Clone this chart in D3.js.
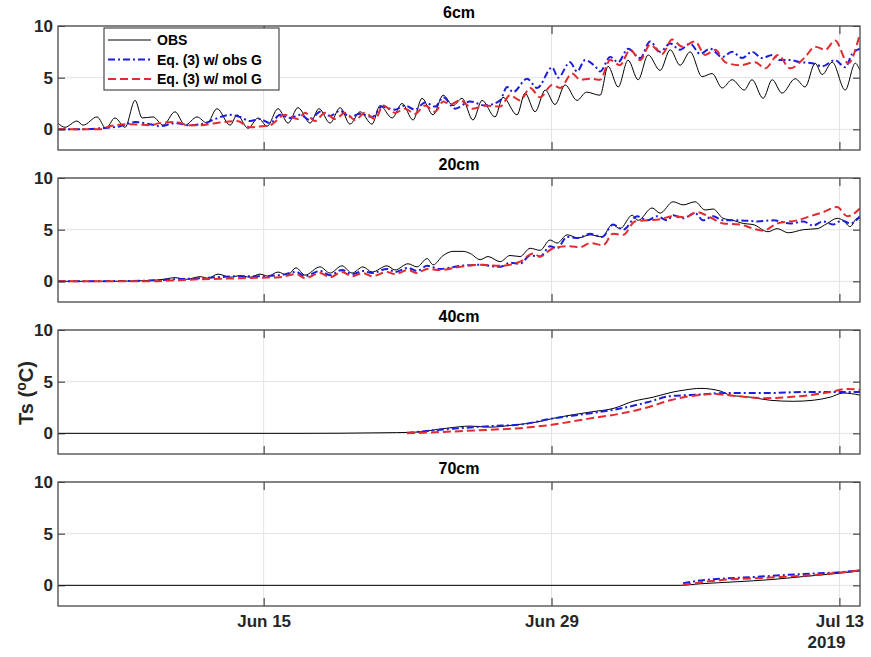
<!DOCTYPE html>
<html><head><meta charset="utf-8">
<script src="https://cdn.jsdelivr.net/npm/d3@7"></script>
<style>
html,body{margin:0;padding:0;background:#fff;}
svg text{font-family:"Liberation Sans",Arial,Helvetica,sans-serif;font-weight:bold;}
</style></head>
<body><svg id="c" width="871" height="657"></svg>
<script>
// ---- data: [days since 2019-06-05 00:00, temperature °C] ----
const panelTitles = ["6cm", "20cm", "40cm", "70cm"];
const seriesNames = ["OBS", "Eq. (3) w/ obs G", "Eq. (3) w/ mol G"];
const yTicks = [0, 5, 10];
const xTickDates = ["2019-06-15", "2019-06-29", "2019-07-13"];
const xTickLabels = ["Jun 15", "Jun 29", "Jul 13"];
const yearLabel = "2019";
const xStart = "2019-06-05", xEnd = "2019-07-14";

const obs6 = [[0,0.6],[0.34,0.2],[0.92,0.8],[1.22,0.4],[1.90,1.2],[2.33,0.1],[2.77,1.1],[3.26,0.2],[3.75,2.8],[4.09,1.1],[4.62,1.2],[5.11,0.4],[5.69,1.7],[6.18,0.4],[6.76,1.2],[7.25,0.6],[7.73,2.0],[8.37,0.4],[8.71,1.4],[9.24,0.1],[9.73,1.1],[10.17,0.3],[10.70,2.0],[11.19,0.6],[11.67,2.1],[12.26,0.6],[12.69,2.0],[13.23,0.6],[13.72,2.1],[14.20,0.5],[14.69,1.7],[15.27,0.5],[15.66,2.3],[16.25,1.1],[16.73,2.5],[17.27,0.9],[17.70,3.0],[18.24,1.4],[18.73,3.3],[19.21,2.3],[19.65,3.0],[20.18,0.9],[20.62,2.8],[21.25,1.2],[21.64,3.1],[22.32,1.4],[22.71,3.5],[23.20,1.7],[23.69,3.8],[24.17,2.4],[24.66,4.3],[25.24,2.8],[25.70,3.6],[26.36,3.3],[26.75,6.1],[27.24,4.1],[27.72,6.7],[28.21,4.8],[28.70,7.2],[29.28,5.7],[29.77,7.7],[30.25,6.2],[30.74,7.5],[31.32,5.1],[31.81,5.4],[32.30,4.0],[32.78,4.8],[33.37,3.8],[33.75,4.8],[34.29,3.0],[34.73,4.8],[35.21,3.5],[35.85,4.9],[36.33,4.1],[36.82,6.4],[37.16,5.3],[37.65,6.5],[38.28,3.8],[38.77,6.4],[39.00,5.7]];
const obsG6 = [[0,0.0],[1.07,0.0],[2.04,0.1],[3.02,0.3],[3.75,0.7],[4.47,0.5],[4.96,0.3],[5.69,0.6],[6.42,0.4],[7.15,0.6],[7.64,1.0],[8.37,1.4],[8.85,1.2],[9.34,0.8],[9.82,1.0],[10.31,0.6],[10.80,1.4],[11.28,1.1],[11.77,1.4],[12.26,0.9],[12.74,1.7],[13.23,1.3],[13.72,1.8],[14.20,1.2],[14.69,1.5],[15.27,1.2],[15.76,2.2],[16.39,1.9],[16.88,2.3],[17.36,1.9],[17.85,2.6],[18.34,2.2],[18.73,3.1],[19.31,2.0],[20.04,2.7],[20.77,2.3],[21.50,2.8],[21.84,4.1],[22.13,3.6],[22.81,4.9],[23.30,4.0],[24.03,6.0],[24.32,5.0],[24.90,6.5],[25.24,5.6],[25.63,6.7],[26.12,6.1],[26.36,5.6],[26.85,7.0],[27.24,6.5],[27.72,7.8],[28.31,6.9],[28.79,8.5],[29.28,7.5],[29.77,8.3],[30.25,7.7],[30.74,8.3],[31.23,7.3],[31.71,7.8],[32.30,7.0],[32.78,7.5],[33.27,6.9],[33.75,7.5],[34.24,6.9],[34.73,7.2],[35.12,6.7],[35.60,6.7],[36.09,6.5],[36.67,6.4],[37.16,6.1],[37.79,6.7],[38.28,6.0],[38.62,7.3],[39.00,7.8]];
const molG6 = [[0,0.0],[2.04,0.0],[2.53,0.3],[3.50,0.5],[4.47,0.4],[4.96,0.6],[5.69,0.7],[6.42,0.4],[6.91,0.4],[7.64,0.6],[8.71,0.8],[9.34,0.2],[9.92,0.3],[10.31,0.4],[11.04,1.4],[11.67,1.0],[12.01,1.6],[12.50,0.8],[12.99,1.6],[13.47,1.0],[13.96,1.6],[14.45,0.9],[14.93,1.6],[15.42,1.0],[15.81,2.3],[16.39,1.6],[16.88,2.0],[17.36,1.5],[17.85,2.3],[18.34,1.7],[18.73,2.7],[19.07,2.4],[19.55,2.8],[20.18,2.0],[20.77,2.3],[21.50,2.2],[21.98,3.3],[22.47,2.8],[22.96,4.0],[23.44,3.1],[24.03,4.3],[24.42,4.0],[25.00,5.4],[25.39,4.8],[25.88,4.9],[26.36,4.8],[26.85,6.7],[27.33,6.2],[27.82,7.7],[28.31,6.7],[28.79,8.2],[29.38,7.3],[29.86,8.7],[30.35,8.0],[30.98,8.5],[31.47,7.2],[31.96,7.7],[32.44,6.5],[33.17,6.2],[33.90,6.5],[34.39,5.9],[35.02,7.2],[35.60,5.9],[36.33,7.0],[36.82,8.0],[37.31,7.7],[37.79,8.6],[38.42,6.4],[39.00,9.3]];

const obs20 = [[0,0.0],[2.04,0.0],[3.99,0.05],[4.96,0.15],[5.69,0.35],[6.27,0.2],[6.91,0.45],[7.30,0.3],[7.78,0.7],[8.37,0.4],[8.85,0.55],[9.34,0.4],[9.82,0.7],[10.21,0.5],[10.70,0.9],[11.14,0.6],[11.58,1.3],[12.01,0.6],[12.74,1.4],[13.23,0.8],[13.81,1.5],[14.30,0.8],[14.83,1.4],[15.27,0.9],[16.00,1.5],[16.39,1.1],[17.02,1.7],[17.46,1.4],[17.95,2.2],[18.24,1.6],[18.73,2.5],[19.21,2.9],[19.70,2.9],[20.04,2.7],[20.53,2.1],[20.91,2.4],[21.50,1.9],[21.98,2.5],[22.47,2.4],[22.96,3.2],[23.44,3.0],[23.93,4.0],[24.27,3.7],[24.76,4.5],[25.29,4.2],[25.88,4.5],[26.46,4.3],[26.95,5.5],[27.33,5.1],[27.92,6.4],[28.21,5.9],[28.89,7.1],[29.28,6.6],[29.91,7.7],[30.40,7.4],[30.98,7.7],[31.47,6.9],[31.86,7.0],[32.34,6.1],[32.83,5.9],[33.32,5.6],[33.80,5.5],[34.53,4.8],[34.97,5.1],[35.51,4.7],[36.24,5.0],[36.92,5.1],[37.40,5.6],[37.89,6.1],[38.18,5.9],[38.52,5.3],[38.86,6.1],[39.00,6.1]];
const obsG20 = [[0,0.0],[3.99,0.05],[5.69,0.2],[6.91,0.3],[7.78,0.4],[8.85,0.5],[9.82,0.5],[10.80,0.6],[11.58,0.9],[12.01,0.5],[12.74,1.0],[13.23,0.6],[13.81,1.1],[14.30,0.7],[14.83,1.0],[15.27,0.8],[16.00,1.2],[16.39,0.9],[17.02,1.3],[17.46,1.0],[17.95,1.5],[18.58,1.2],[19.55,1.5],[20.53,1.6],[21.50,1.4],[21.98,1.8],[22.47,1.7],[22.96,2.5],[23.44,2.4],[23.93,3.4],[24.27,3.2],[24.76,4.3],[25.29,4.2],[25.88,4.6],[26.46,4.3],[26.99,5.5],[27.48,5.0],[28.16,6.3],[28.65,5.9],[29.13,6.3],[29.62,5.9],[29.91,6.4],[30.40,6.1],[30.98,6.6],[31.37,5.9],[31.86,6.3],[32.34,5.9],[33.17,5.9],[34.00,5.8],[34.78,5.9],[35.60,5.6],[36.24,5.8],[36.72,5.4],[37.21,5.8],[37.69,5.5],[38.13,5.9],[38.52,5.6],[39.00,6.3]];
const molG20 = [[0,0.0],[4.47,0.0],[5.69,0.1],[6.91,0.2],[7.88,0.25],[8.85,0.3],[9.82,0.35],[10.80,0.4],[11.58,0.7],[12.01,0.3],[12.74,0.8],[13.23,0.4],[13.81,0.9],[14.30,0.5],[14.83,0.8],[15.27,0.5],[16.00,0.9],[16.39,0.7],[17.02,1.1],[17.46,0.8],[17.95,1.2],[18.58,1.1],[19.55,1.4],[20.53,1.6],[21.50,1.5],[22.47,1.9],[23.10,2.7],[23.44,2.4],[24.08,3.2],[24.90,3.4],[25.39,3.3],[25.88,3.7],[26.51,3.5],[26.99,4.6],[27.48,4.5],[28.06,5.8],[28.65,5.9],[29.28,6.0],[29.86,6.3],[30.50,6.2],[31.08,6.7],[31.71,6.2],[32.34,5.6],[33.17,5.5],[33.80,5.1],[34.29,4.9],[34.97,5.6],[35.94,5.9],[36.58,6.3],[37.21,6.7],[37.89,7.2],[38.38,6.3],[38.91,6.9],[39.00,7.1]];

const obs40 = [[0,0.0],[6.91,0.0],[11.77,0.0],[15.66,0.05],[17.27,0.1],[18.92,0.5],[20.04,0.7],[21.01,0.6],[22.13,0.8],[23.30,1.1],[24.08,1.45],[25.05,1.8],[26.02,2.1],[26.99,2.4],[27.97,3.1],[28.94,3.5],[29.91,4.0],[30.50,4.2],[31.23,4.35],[32.20,4.1],[32.68,3.7],[33.66,3.5],[34.63,3.2],[35.75,3.1],[36.72,3.2],[37.55,3.5],[38.18,3.9],[39.00,3.7]];
const obsG40 = [[16.97,0.05],[18.92,0.4],[21.01,0.7],[22.47,0.85],[24.08,1.45],[25.73,1.9],[27.33,2.4],[28.65,3.0],[29.77,3.6],[30.74,3.7],[32.54,3.9],[34.63,3.9],[36.24,4.0],[37.89,4.0],[39.00,4.0]];
const molG40 = [[16.97,0.0],[18.92,0.15],[21.01,0.35],[22.47,0.5],[24.08,0.85],[25.73,1.4],[27.33,1.9],[28.65,2.5],[29.77,3.2],[30.74,3.6],[31.86,3.8],[33.03,3.6],[34.29,3.4],[35.46,3.5],[36.58,3.7],[37.55,4.0],[38.38,4.3],[39.00,4.2]];

const obs70 = [[0,0.0],[16.63,0.0],[30.25,0.0],[31.23,0.15],[33.03,0.35],[34.63,0.55],[36.24,0.85],[37.89,1.15],[39.00,1.4]];
const obsG70 = [[30.40,0.2],[31.37,0.5],[33.80,0.8],[36.24,1.1],[37.89,1.25],[39.00,1.45]];
const molG70 = [[30.40,0.05],[32.20,0.5],[34.63,0.75],[37.06,1.05],[39.00,1.45]];

const panelData = [[obs6, obsG6, molG6],[obs20, obsG20, molG20],[obs40, obsG40, molG40],[obs70, obsG70, molG70]];

// ---- layout / style ----
const L = 58, R = 860, panelH = 124;
const panelTops = [26, 178, 330, 482];
const styles = [
  {stroke:"#000000", width:1, dash:null},
  {stroke:"#1c1ce0", width:2, dash:"7,3,2,3"},
  {stroke:"#e42a2e", width:2, dash:"8,4"}
];
const svg = d3.select("#c");
const parse = d3.timeParse("%Y-%m-%d");
const t0 = parse(xStart), t1 = parse(xEnd);
const x = d3.scaleTime().domain([t0, t1]).range([L, R]);
const toDate = d => new Date(t0.getTime() + d * 86400000);
const tickDates = xTickDates.map(parse);

panelTops.forEach((top, pi) => {
  const y = d3.scaleLinear().domain([-2, 10]).range([top + panelH, top]);
  const g = svg.append("g");
  g.selectAll(".gy").data(yTicks).join("line")
    .attr("x1", L).attr("x2", R).attr("y1", d => y(d)).attr("y2", d => y(d))
    .attr("stroke", "#e3e3e3").attr("stroke-width", 1);
  g.selectAll(".gx").data(tickDates).join("line")
    .attr("x1", d => x(d)).attr("x2", d => x(d)).attr("y1", top).attr("y2", top + panelH)
    .attr("stroke", "#e3e3e3").attr("stroke-width", 1);
  const cid = "clip" + pi;
  svg.append("clipPath").attr("id", cid).append("rect")
    .attr("x", L).attr("y", top).attr("width", R - L).attr("height", panelH);
  const line = d3.line().x(d => x(toDate(d[0]))).y(d => y(d[1])).curve(d3.curveMonotoneX);
  panelData[pi].forEach((ser, si) => {
    g.append("path").datum(ser).attr("d", line).attr("fill", "none")
      .attr("clip-path", `url(#${cid})`)
      .attr("stroke", styles[si].stroke).attr("stroke-width", styles[si].width)
      .attr("stroke-dasharray", styles[si].dash);
  });
  const axL = d3.axisLeft(y).tickValues(yTicks).tickSize(-7).tickPadding(5).tickFormat(d3.format("d"));
  const axR = d3.axisRight(y).tickValues(yTicks).tickSize(-7).tickFormat("");
  const axB = d3.axisBottom(x).tickValues(tickDates).tickSize(-8).tickPadding(9)
    .tickFormat((d, i) => pi === 3 ? xTickLabels[i] : "");
  const axT = d3.axisTop(x).tickValues(tickDates).tickSize(-8).tickFormat("");
  [[axL, `translate(${L},0)`], [axR, `translate(${R},0)`], [axB, `translate(0,${top + panelH})`], [axT, `translate(0,${top})`]]
    .forEach(([ax, tr]) => {
      const a = g.append("g").attr("transform", tr).call(ax);
      a.select(".domain").remove();
      a.selectAll(".tick line").attr("stroke", "#262626");
      a.selectAll("text").attr("fill", "#262626").style("font-size", "17px");
    });
  g.append("rect").attr("x", L).attr("y", top).attr("width", R - L).attr("height", panelH)
    .attr("fill", "none").attr("stroke", "#555").attr("stroke-width", 1.4);
  svg.append("text").attr("x", (L + R) / 2).attr("y", top - 8).attr("text-anchor", "middle")
    .style("font-size", "16px").attr("fill", "#000").text(panelTitles[pi]);
  if (pi === 3) {
    svg.append("text").attr("x", x(tickDates[2]) - 13).attr("y", top + panelH + 42)
      .attr("text-anchor", "middle").style("font-size", "17px").attr("fill", "#262626").text(yearLabel);
  }
});

const yl = svg.append("text").attr("transform", "translate(33,393) rotate(-90)")
  .attr("text-anchor", "middle").style("font-size", "20px").attr("fill", "#262626");
yl.append("tspan").text("Ts (");
yl.append("tspan").attr("dy", -7).style("font-size", "14px").text("o");
yl.append("tspan").attr("dy", 7).text("C)");

const lg = svg.append("g");
lg.append("rect").attr("x", 104).attr("y", 28).attr("width", 175).attr("height", 62)
  .attr("fill", "#fff").attr("stroke", "#262626").attr("stroke-width", 1);
seriesNames.forEach((n, i) => {
  const yy = 40 + i * 19.5;
  lg.append("line").attr("x1", 108).attr("x2", 151).attr("y1", yy).attr("y2", yy)
    .attr("stroke", styles[i].stroke).attr("stroke-width", styles[i].width)
    .attr("stroke-dasharray", styles[i].dash);
  lg.append("text").attr("x", 157).attr("y", yy + 5).style("font-size", "14px")
    .attr("fill", "#000").text(n);
});
</script></body></html>
